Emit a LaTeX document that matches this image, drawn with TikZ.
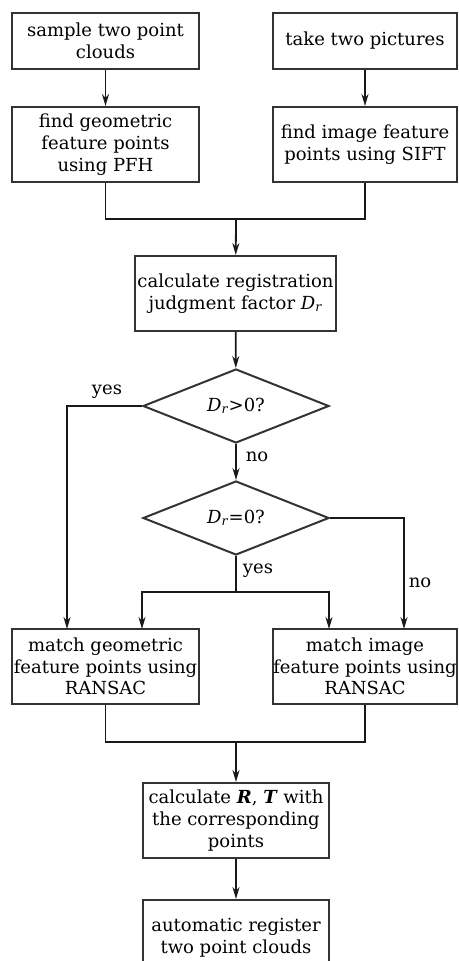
\documentclass[tikz,border=0pt]{standalone}
\usepackage{fontspec}
\setmainfont{DejaVu Serif}
\usetikzlibrary{shapes.geometric,arrows.meta}
\newcommand\fs{\fontsize{18}{21.7}\selectfont}
\newcommand\Dr{\textit{D}\textsubscript{\textit{r}}}
\begin{document}
\begin{tikzpicture}[x=1pt,y=-1pt,
  box/.style={draw=black!80, line width=2pt, inner sep=0pt, align=center, font=\fs, minimum width=#1},
  box/.default=187pt,
  dec/.style={diamond, draw=black!80, line width=2pt, inner sep=0pt, minimum width=186pt, minimum height=74pt, font=\fs},
  ln/.style={line width=1.8pt, draw=black!90},
  arr/.style={ln, -{Stealth[length=12pt,width=7pt]}},
  lbl/.style={font=\fs, inner sep=0pt}]
\useasboundingbox (0,0) rectangle (458,961);
\clip (0,0) rectangle (458,961);
\node[box, minimum height=56pt] (b1) at (105.5,41) {sample two point\\clouds};
\node[box=184pt, minimum height=56pt] (b2) at (365,41) {take two pictures};
\node[box, minimum height=75pt] (b3) at (105.5,144.5) {find geometric\\feature points\\using PFH};
\node[box=184pt, minimum height=75pt] (b4) at (365,144.5) {find image feature\\points using SIFT};
\node[box=201pt, minimum height=75pt] (b5) at (235.5,293.5) {calculate registration\\judgment factor \Dr};
\node[dec] (d1) at (236,406) {\Dr{}>0?};
\node[dec] (d2) at (236,518) {\Dr{}=0?};
\node[box, minimum height=75pt] (b7) at (105.5,666.5) {match geometric\\feature points using\\RANSAC};
\node[box=184pt, minimum height=75pt] (b8) at (365,666.5) {match image\\feature points using\\RANSAC};
\node[box=186pt, minimum height=75pt] (b9) at (236,820.5) {calculate \textbf{\textit{R}}, \textbf{\textit{T}} with\\the corresponding\\points};
\node[box=186pt, minimum height=75pt] (b10) at (236,937.5) {automatic register\\two point clouds};
\coordinate (m1) at (236,219);
\coordinate (m2) at (236,592);
\coordinate (m3) at (236,742);
\coordinate (t0) at (67,629);
\coordinate (t1) at (142,629);
\coordinate (t2) at (329,629);
\coordinate (t3) at (404,629);
\draw[arr] (b1) -- (b3);
\draw[arr] (b2) -- (b4);
\draw[ln] (b3.south) |- (m1) -| (b4.south);
\draw[arr] (m1) -- (b5);
\draw[arr] (b5) -- (d1);
\draw[arr] (d1.west) -| (t0);
\draw[arr] (d1) -- (d2);
\draw[ln] (d2.south) -- (m2);
\draw[arr] (m2) -| (t1);
\draw[arr] (m2) -| (t2);
\draw[arr] (d2.east) -| (t3);
\draw[ln] (b7.south) |- (m3) -| (b8.south);
\draw[arr] (m3) -- (b9);
\draw[arr] (b9) -- (b10);
\node[lbl] (l1) at (107,392) {yes};
\node[lbl] (l2) at (257,457) {no};
\node[lbl] (l3) at (258,571) {yes};
\node[lbl] (l4) at (420,583) {no};
\end{tikzpicture}
\end{document}
